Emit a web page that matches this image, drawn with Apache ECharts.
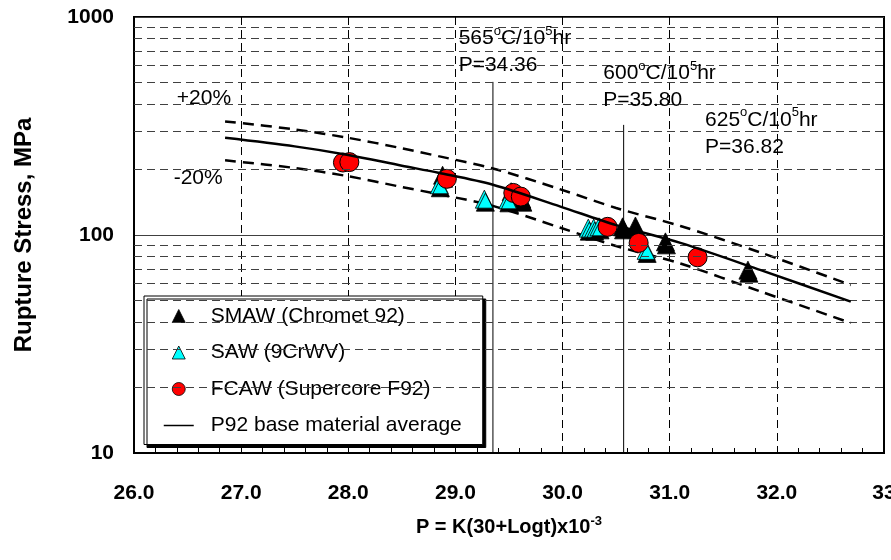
<!DOCTYPE html>
<html><head><meta charset="utf-8">
<script src="https://cdn.jsdelivr.net/npm/echarts@6/dist/echarts.min.js"></script>
<style>html,body{margin:0;padding:0;background:#fff}#c{width:891px;height:560px}</style>
</head><body><div id="c"></div>
<script>
// ---- data ----
const seriesNames = ['SMAW (Chromet 92)', 'SAW (9CrWV)', 'FCAW (Supercore F92)', 'P92 base material average'];
const smawData = [[28.88,188],[29.52,158],[29.62,146],[30.56,109],[30.68,110],[30.96,93],[31.73,69]];
const sawData  = [[28.85,170],[29.27,146],[29.49,145],[30.24,107.5],[30.29,107.5],[30.34,109],[30.78,85]];
const fcawData = [[27.95,215],[28.01,216],[28.92,181],[29.54,156],[29.61,150],[30.42,109],[30.71,92],[31.26,79]];
const curveP     = [26.85,27.5,28.0,28.5,28.84,29.35,29.98,30.5,31.1,31.85,32.69];
const curveMean  = [279,255,233,208,193,170,135,111,92,69,49.5];
const curveUpper = [332,305,279,250,230,202,162,133,110,83,59];
const curveLower = [220,203,186,166,154,136,108,89,74,55,39.5];
const refLineP   = [29.35, 30.57];
const refLineTop = [504, 320];
const yMinorTicks = [20,30,40,50,60,70,80,90,200,300,400,500,600,700,800,900];
const xTickLabels = ['26.0','27.0','28.0','29.0','30.0','31.0','32.0','33'];
const annTemps = ['565','600','625'];
const annPvals = ['34.36','35.80','36.82'];
const bandLabels = ['+20%','-20%'];

const FF = '"Liberation Sans", Arial, Helvetica, sans-serif';
const zip = (xs, ys) => xs.map((x, i) => [x, ys[i]]);

// anchor points (data coords) for the text annotations
const annAnchors = [[29.03, 690], [30.38, 480], [31.33, 293]];
const bandAnchors = [[26.40, 425], [26.37, 182]];

const chart = echarts.init(document.getElementById('c'), null, {renderer: 'canvas'});
const triShadow = {shadowColor: '#000', shadowBlur: 0, shadowOffsetX: 1, shadowOffsetY: 3};
const triIcon = 'path://M5,0L10,10L0,10Z';

const option = {
  animation: false,
  backgroundColor: '#fff',
  textStyle: {fontFamily: FF},
  grid: {left: 134, right: 7, top: 17, bottom: 107, show: true, borderColor: '#000', borderWidth: 2,
    backgroundColor: 'transparent', outerBoundsMode: 'none', containLabel: false},
  legend: {
    data: [
      {name: seriesNames[0], icon: triIcon}, {name: seriesNames[1], icon: triIcon}, {name: seriesNames[2], icon: 'circle'},
      {name: seriesNames[3], itemStyle: {color: 'transparent', borderWidth: 0, opacity: 0}}
    ],
    orient: 'vertical', left: 144, top: 296,
    padding: [9, 21, 8, 19],
    itemGap: 14.5, itemWidth: 30, itemHeight: 13,
    symbolKeepAspect: true,
    backgroundColor: '#fff', borderColor: '#000', borderWidth: 1,
    shadowColor: '#000', shadowBlur: 0, shadowOffsetX: 3, shadowOffsetY: 3,
    textStyle: {fontSize: 21, color: '#000', fontFamily: FF, lineHeight: 22, padding: [0,0,0,12]},
    itemStyle: {shadowColor: 'transparent', shadowOffsetX: 0, shadowOffsetY: 0, borderColor: '#000', borderWidth: 0.8, opacity: 1},
    lineStyle: {width: 1.5},
    selectedMode: false
  },
  xAxis: {
    type: 'value', min: 26, max: 33, interval: 1,
    axisLine: {show: true, lineStyle: {color: '#000', width: 2}},
    axisTick: {show: true, inside: true, length: 5, lineStyle: {color: '#000'}},
    minorTick: {show: true, splitNumber: 5, length: 5, lineStyle: {color: '#000'}},
    splitLine: {show: true, lineStyle: {color: '#000', width: 1, type: [8, 5]}},
    axisLabel: {margin: 30, fontSize: 21, fontWeight: 'bold', color: '#000', fontFamily: FF,
      showMinLabel: true, showMaxLabel: true, hideOverlap: false,
      formatter: v => xTickLabels[Math.round(v - 26)] || ''},
    name: '{b|P = K(30+Logt)x10}{s|-3}',
    nameLocation: 'middle', nameGap: 62,
    nameTextStyle: {color: '#000', fontFamily: FF, rich: {
      b: {fontSize: 20, fontWeight: 'bold', color: '#000', fontFamily: FF, lineHeight: 24},
      s: {fontSize: 13, fontWeight: 'bold', color: '#000', fontFamily: FF, verticalAlign: 'top', lineHeight: 12}
    }}
  },
  yAxis: {
    type: 'log', logBase: 10, min: 10, max: 1000,
    axisLine: {show: true, lineStyle: {color: '#000', width: 2}},
    axisTick: {show: false},
    splitLine: {show: true, lineStyle: {color: '#404040', width: 1}},
    axisLabel: {margin: 20, fontSize: 21, fontWeight: 'bold', color: '#000', fontFamily: FF,
      formatter: v => String(Math.round(v))},
    name: 'Rupture Stress, MPa', nameLocation: 'middle', nameRotate: 90, nameGap: 98,
    nameTextStyle: {fontSize: 24, fontWeight: 'bold', color: '#000', fontFamily: FF}
  },
  series: [
    { // minor horizontal gridlines
      type: 'line', name: 'grid', data: [], silent: true, z: 1,
      markLine: {silent: true, symbol: ['none','none'], label: {show: false},
        lineStyle: {color: '#404040', width: 1, type: [8, 5]},
        data: yMinorTicks.map(v => ({yAxis: v}))}
    },
    {type: 'line', name: 'ref565', data: [[refLineP[0], refLineTop[0]], [refLineP[0], 10]], symbol: 'none', silent: true,
      lineStyle: {color: '#000', width: 1}, z: 2},
    {type: 'line', name: 'ref600', data: [[refLineP[1], refLineTop[1]], [refLineP[1], 10]], symbol: 'none', silent: true,
      lineStyle: {color: '#000', width: 1}, z: 2},
    {type: 'line', name: '+20', data: zip(curveP, curveUpper), symbol: 'none', smooth: 0.3, silent: true,
      lineStyle: {color: '#000', width: 2.5, type: [11, 7]}, z: 3},
    {type: 'line', name: '-20', data: zip(curveP, curveLower), symbol: 'none', smooth: 0.3, silent: true,
      lineStyle: {color: '#000', width: 2.5, type: [11, 7]}, z: 3},
    {type: 'scatter', name: seriesNames[0], data: smawData, symbol: 'triangle', symbolSize: 18,
      itemStyle: Object.assign({color: '#000', borderColor: '#000', borderWidth: 0.8, opacity: 1}, triShadow), z: 4},
    {type: 'scatter', name: seriesNames[1], data: sawData, symbol: 'triangle', symbolSize: 18,
      itemStyle: Object.assign({color: '#00FFFF', borderColor: '#000', borderWidth: 0.8, opacity: 1}, triShadow), z: 4},
    {type: 'scatter', name: seriesNames[2], data: fcawData, symbol: 'circle', symbolSize: 19,
      itemStyle: {color: '#FF0000', borderColor: '#000', borderWidth: 1, opacity: 1}, z: 4},
    {type: 'line', name: seriesNames[3], data: zip(curveP, curveMean), symbol: 'none', showSymbol: false, smooth: 0.3, silent: true,
      lineStyle: {color: '#000', width: 2.5}, itemStyle: {color: '#000'}, z: 5},
    { // temperature annotations
      type: 'scatter', name: 'ann', symbolSize: 0, silent: true, z: 6,
      itemStyle: {opacity: 1},
      data: annAnchors.map((a, i) => ({value: a, t: annTemps[i], p: annPvals[i]})),
      label: {show: true, position: 'right', distance: 0, align: 'left', verticalAlign: 'middle',
        formatter: pr => pr.data.t + '{sup|o}C/10{sup|5}hr\nP=' + pr.data.p,
        fontSize: 21, color: '#000', fontFamily: FF, lineHeight: 27,
        rich: {sup: {fontSize: 13, color: '#000', fontFamily: FF, verticalAlign: 'top', lineHeight: 14}}}
    },
    { // +/-20% labels
      type: 'scatter', name: 'band', symbolSize: 0, silent: true, z: 6,
      itemStyle: {opacity: 1},
      data: bandAnchors.map((a, i) => ({value: a, t: bandLabels[i]})),
      label: {show: true, position: 'right', distance: 0, align: 'left', verticalAlign: 'middle',
        formatter: pr => pr.data.t, fontSize: 21, color: '#000', fontFamily: FF}
    }
  ]
};
chart.setOption(option);
</script>
</body></html>
